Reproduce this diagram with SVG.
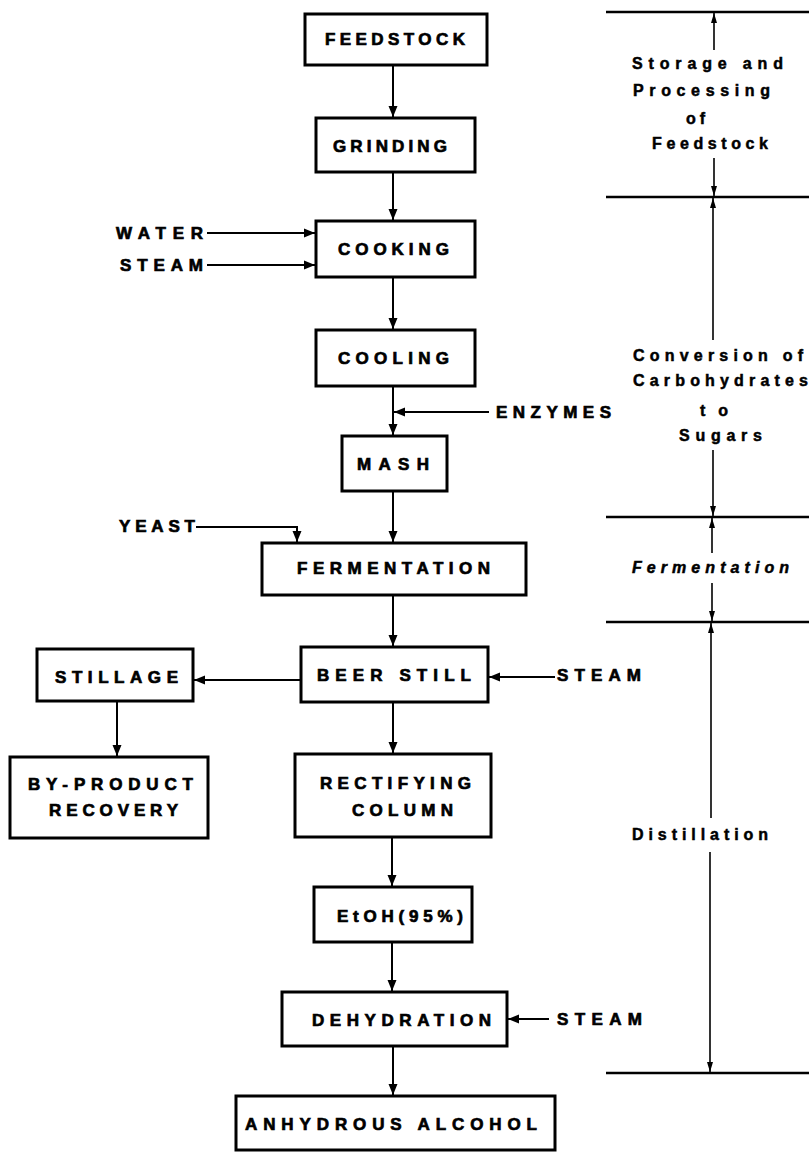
<svg xmlns="http://www.w3.org/2000/svg" width="809" height="1152" viewBox="0 0 809 1152">
<style>
.box{fill:#fff;stroke:#000;stroke-width:3}
.t{font-family:"Liberation Sans",Arial,Helvetica,sans-serif;font-weight:bold;font-size:17px;fill:#000;stroke:#000;stroke-width:0.7}
.s{font-family:"Liberation Sans",Arial,Helvetica,sans-serif;font-weight:bold;font-size:16px;fill:#000;stroke:#000;stroke-width:0.5}
.c{fill:none;stroke:#000;stroke-width:2}
.sec{fill:none;stroke:#000;stroke-width:2.5}
.d{fill:none;stroke:#000;stroke-width:1.6}
</style>
<defs>
<marker id="ah" markerUnits="userSpaceOnUse" markerWidth="11" markerHeight="10" viewBox="0 0 11 10" refX="11" refY="5" orient="auto"><path d="M0,0.5 L11,5 L0,9.5 z" fill="#000"/></marker>
<marker id="ahs" markerUnits="userSpaceOnUse" markerWidth="10" markerHeight="7" viewBox="0 0 10 7" refX="10" refY="3.5" orient="auto"><path d="M0,0.5 L10,3.5 L0,6.5 z" fill="#000"/></marker>
</defs>
<rect width="809" height="1152" fill="#fff"/>

<g id="connectors">
<line class="c" x1="393" y1="66" x2="393" y2="117" marker-end="url(#ah)"/>
<line class="c" x1="393" y1="173" x2="393" y2="220" marker-end="url(#ah)"/>
<line class="c" x1="393" y1="278" x2="393" y2="329" marker-end="url(#ah)"/>
<line class="c" x1="393" y1="387" x2="393" y2="435" marker-end="url(#ah)"/>
<line class="c" x1="393" y1="492" x2="393" y2="542" marker-end="url(#ah)"/>
<line class="c" x1="393" y1="596" x2="393" y2="646" marker-end="url(#ah)"/>
<line class="c" x1="393" y1="703" x2="393" y2="753" marker-end="url(#ah)"/>
<line class="c" x1="392" y1="838" x2="392" y2="886" marker-end="url(#ah)"/>
<line class="c" x1="392" y1="943" x2="392" y2="991" marker-end="url(#ah)"/>
<line class="c" x1="393" y1="1047" x2="393" y2="1095" marker-end="url(#ah)"/>
<line class="c" x1="207" y1="233" x2="315" y2="233" marker-end="url(#ah)"/>
<line class="c" x1="207" y1="265" x2="315" y2="265" marker-end="url(#ah)"/>
<line class="c" x1="489" y1="412" x2="394" y2="412" marker-end="url(#ah)"/>
<polyline class="c" points="196,527 297,527 297,542" marker-end="url(#ah)"/>
<line class="c" x1="300" y1="680" x2="194" y2="680" marker-end="url(#ah)"/>
<line class="c" x1="555" y1="677" x2="489" y2="677" marker-end="url(#ah)"/>
<line class="c" x1="117" y1="702" x2="117" y2="756" marker-end="url(#ah)"/>
<line class="c" x1="549" y1="1019" x2="508" y2="1019" marker-end="url(#ah)"/>
</g>

<g id="sections">
<line class="sec" x1="606" y1="12" x2="809" y2="12"/>
<line class="sec" x1="606" y1="197" x2="809" y2="197"/>
<line class="sec" x1="606" y1="517" x2="809" y2="517"/>
<line class="sec" x1="606" y1="622" x2="809" y2="622"/>
<line class="sec" x1="606" y1="1073" x2="809" y2="1073"/>
<line class="d" x1="714" y1="50" x2="714" y2="13" marker-end="url(#ahs)"/>
<line class="d" x1="714" y1="158" x2="714" y2="196" marker-end="url(#ahs)"/>
<line class="d" x1="713" y1="340" x2="713" y2="198" marker-end="url(#ahs)"/>
<line class="d" x1="713" y1="450" x2="713" y2="516" marker-end="url(#ahs)"/>
<line class="d" x1="712" y1="553" x2="712" y2="518" marker-end="url(#ahs)"/>
<line class="d" x1="712" y1="583" x2="712" y2="621" marker-end="url(#ahs)"/>
<line class="d" x1="711" y1="818" x2="711" y2="623" marker-end="url(#ahs)"/>
<line class="d" x1="710" y1="852" x2="710" y2="1072" marker-end="url(#ahs)"/>
<text class="s" x="632" y="69" textLength="151" lengthAdjust="spacing">Storage and</text>
<text class="s" x="633" y="96" textLength="137" lengthAdjust="spacing">Processing</text>
<text class="s" x="686" y="124" textLength="19" lengthAdjust="spacing">of</text>
<text class="s" x="652" y="149" textLength="116" lengthAdjust="spacing">Feedstock</text>
<text class="s" x="633" y="361" textLength="170" lengthAdjust="spacing">Conversion of</text>
<text class="s" x="633" y="386" textLength="175" lengthAdjust="spacing">Carbohydrates</text>
<text class="s" x="700" y="416" textLength="28" lengthAdjust="spacing">to</text>
<text class="s" x="679" y="441" textLength="83" lengthAdjust="spacing">Sugars</text>
<text class="s" x="632" y="573" textLength="157" lengthAdjust="spacing" font-style="italic">Fermentation</text>
<text class="s" x="632" y="840" textLength="136" lengthAdjust="spacing">Distillation</text>
</g>

<g id="inputs">
<text class="t" x="116" y="239" textLength="87" lengthAdjust="spacing">WATER</text>
<text class="t" x="120" y="271" textLength="83" lengthAdjust="spacing">STEAM</text>
<text class="t" x="496" y="418" textLength="115" lengthAdjust="spacing">ENZYMES</text>
<text class="t" x="119" y="532" textLength="76" lengthAdjust="spacing">YEAST</text>
<text class="t" x="557" y="681" textLength="84" lengthAdjust="spacing">STEAM</text>
<text class="t" x="557" y="1025" textLength="85" lengthAdjust="spacing">STEAM</text>
</g>

<g id="feedstock"><rect class="box" x="305" y="14" width="182" height="51"/><text class="t" x="325" y="45" textLength="140" lengthAdjust="spacing">FEEDSTOCK</text></g>
<g id="grinding"><rect class="box" x="316" y="118" width="159" height="54"/><text class="t" x="333" y="152" textLength="114" lengthAdjust="spacing">GRINDING</text></g>
<g id="cooking"><rect class="box" x="316" y="221" width="159" height="56"/><text class="t" x="338" y="255" textLength="111" lengthAdjust="spacing">COOKING</text></g>
<g id="cooling"><rect class="box" x="316" y="330" width="159" height="56"/><text class="t" x="338" y="364" textLength="111" lengthAdjust="spacing">COOLING</text></g>
<g id="mash"><rect class="box" x="342" y="436" width="105" height="55"/><text class="t" x="357" y="470" textLength="72" lengthAdjust="spacing">MASH</text></g>
<g id="fermentation"><rect class="box" x="262" y="543" width="264" height="52"/><text class="t" x="297" y="574" textLength="193" lengthAdjust="spacing">FERMENTATION</text></g>
<g id="beer-still"><rect class="box" x="301" y="647" width="187" height="55"/><text class="t" x="317" y="681" textLength="154" lengthAdjust="spacing">BEER STILL</text></g>
<g id="stillage"><rect class="box" x="37" y="649" width="156" height="52"/><text class="t" x="55" y="683" textLength="123" lengthAdjust="spacing">STILLAGE</text></g>
<g id="by-product"><rect class="box" x="10" y="757" width="198" height="81"/><text class="t" x="28" y="790" textLength="165" lengthAdjust="spacing">BY-PRODUCT</text><text class="t" x="49" y="816" textLength="129" lengthAdjust="spacing">RECOVERY</text></g>
<g id="rectifying"><rect class="box" x="295" y="754" width="196" height="83"/><text class="t" x="320" y="789" textLength="151" lengthAdjust="spacing">RECTIFYING</text><text class="t" x="352" y="816" textLength="101" lengthAdjust="spacing">COLUMN</text></g>
<g id="etoh"><rect class="box" x="314" y="887" width="158" height="55"/><text class="t" x="337" y="922" textLength="126" lengthAdjust="spacing">EtOH(95%)</text></g>
<g id="dehydration"><rect class="box" x="282" y="992" width="225" height="54"/><text class="t" x="312" y="1026" textLength="179" lengthAdjust="spacing">DEHYDRATION</text></g>
<g id="anhydrous"><rect class="box" x="236" y="1096" width="319" height="54"/><text class="t" x="245" y="1130" textLength="292" lengthAdjust="spacing">ANHYDROUS ALCOHOL</text></g>
</svg>
